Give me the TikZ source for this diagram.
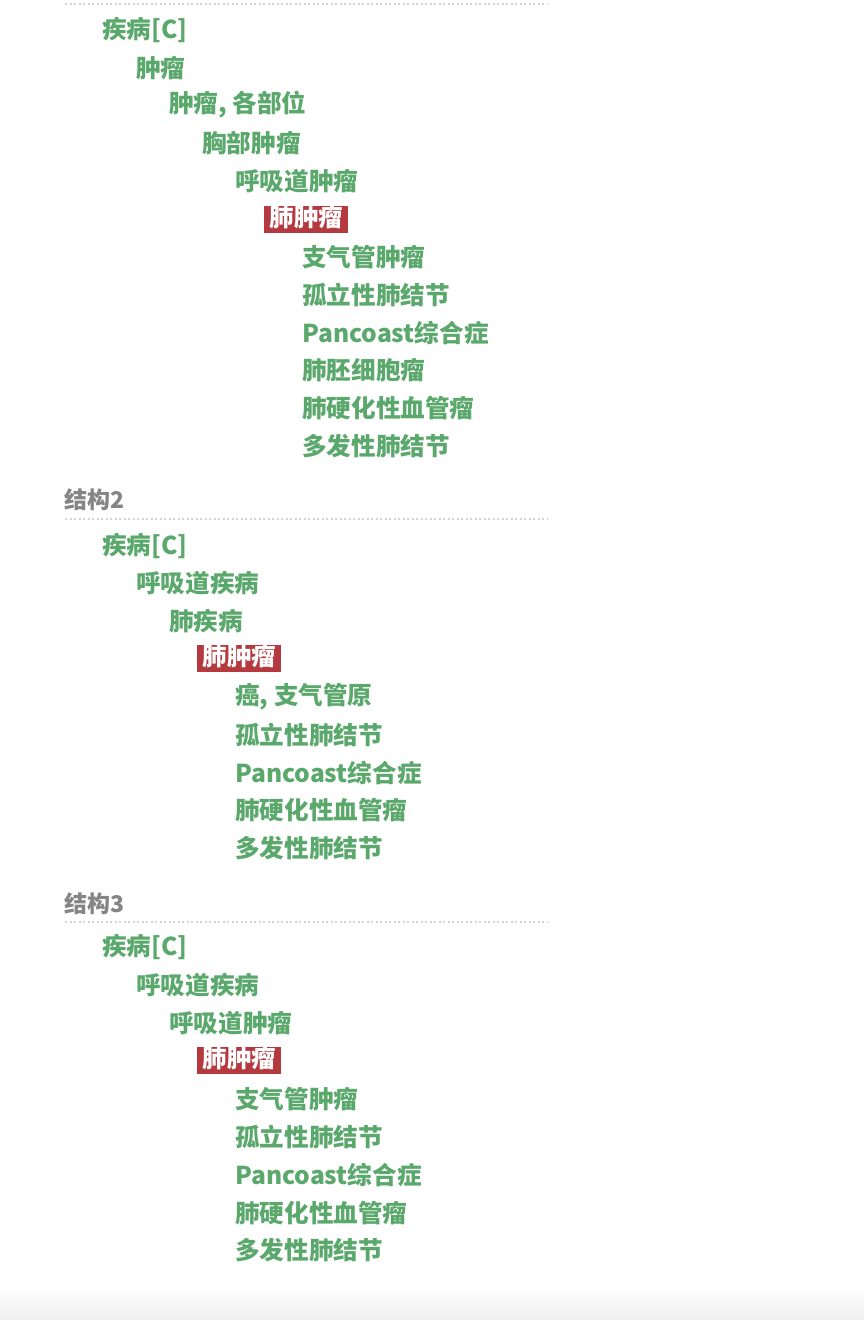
\documentclass[tikz,border=0pt]{standalone}
\usepackage{fontspec}
\newfontfamily\cjk{Noto Sans CJK SC}
\definecolor{termgreen}{HTML}{5AA86C}
\definecolor{selred}{HTML}{B53A40}
\definecolor{hdrgray}{HTML}{858585}
\definecolor{dotgray}{HTML}{D4D4D4}
\tikzset{
  term/.style={anchor=west, inner sep=0pt, text=termgreen, font=\cjk\bfseries\fontsize{24.6}{27}\selectfont},
  selbox/.style={anchor=west, inner xsep=5.5pt, inner ysep=2pt, fill=selred, text=white, text height=19pt, text depth=4pt, font=\cjk\bfseries\fontsize{24.4}{27}\selectfont},
  hdr/.style={anchor=west, inner sep=0pt, text=hdrgray, font=\cjk\bfseries\fontsize{23}{26}\selectfont},
  sepline/.style={draw=dotgray, line width=1.3pt, dash pattern=on 2pt off 2.5pt}
}
\begin{document}
\begin{tikzpicture}[x=1pt,y=-1pt]
\useasboundingbox (0,0) rectangle (864,1320);
\fill[white] (0,0) rectangle (864,1320);
\shade[top color=white, bottom color=black!6] (0,1285) rectangle (864,1320);
% section 1
\coordinate (s1a) at (65,4); \coordinate (s1b) at (548,4);
\draw[sepline] (s1a) -- (s1b);
\node[term] (a1) at (102,30) {疾病[C]};
\node[term] (a2) at (136,68) {肿瘤};
\node[term] (a3) at (169,105) {肿瘤, 各部位};
\node[term] (a4) at (202,143) {胸部肿瘤};
\node[term] (a5) at (235,181) {呼吸道肿瘤};
\node[selbox] (a6) at (264,219) {肺肿瘤};
\node[term] (a7) at (302,257) {支气管肿瘤};
\node[term] (a8) at (302,295) {孤立性肺结节};
\node[term] (a9) at (302,333) {Pancoast综合症};
\node[term] (a10) at (302,370) {肺胚细胞瘤};
\node[term] (a11) at (302,408) {肺硬化性血管瘤};
\node[term] (a12) at (302,446) {多发性肺结节};
% section 2
\node[hdr] (h2) at (64,500) {结构2};
\coordinate (s2a) at (65,519); \coordinate (s2b) at (548,519);
\draw[sepline] (s2a) -- (s2b);
\node[term] (b1) at (102,546) {疾病[C]};
\node[term] (b2) at (136,583) {呼吸道疾病};
\node[term] (b3) at (169,621) {肺疾病};
\node[selbox] (b4) at (197,658) {肺肿瘤};
\node[term] (b5) at (235,697) {癌, 支气管原};
\node[term] (b6) at (235,735) {孤立性肺结节};
\node[term] (b7) at (235,773) {Pancoast综合症};
\node[term] (b8) at (235,810) {肺硬化性血管瘤};
\node[term] (b9) at (235,848) {多发性肺结节};
% section 3
\node[hdr] (h3) at (64,904) {结构3};
\coordinate (s3a) at (65,922); \coordinate (s3b) at (548,922);
\draw[sepline] (s3a) -- (s3b);
\node[term] (c1) at (102,947) {疾病[C]};
\node[term] (c2) at (136,985) {呼吸道疾病};
\node[term] (c3) at (169,1023) {呼吸道肿瘤};
\node[selbox] (c4) at (197,1060) {肺肿瘤};
\node[term] (c5) at (235,1099) {支气管肿瘤};
\node[term] (c6) at (235,1137) {孤立性肺结节};
\node[term] (c7) at (235,1175) {Pancoast综合症};
\node[term] (c8) at (235,1213) {肺硬化性血管瘤};
\node[term] (c9) at (235,1250) {多发性肺结节};
\end{tikzpicture}
\end{document}
